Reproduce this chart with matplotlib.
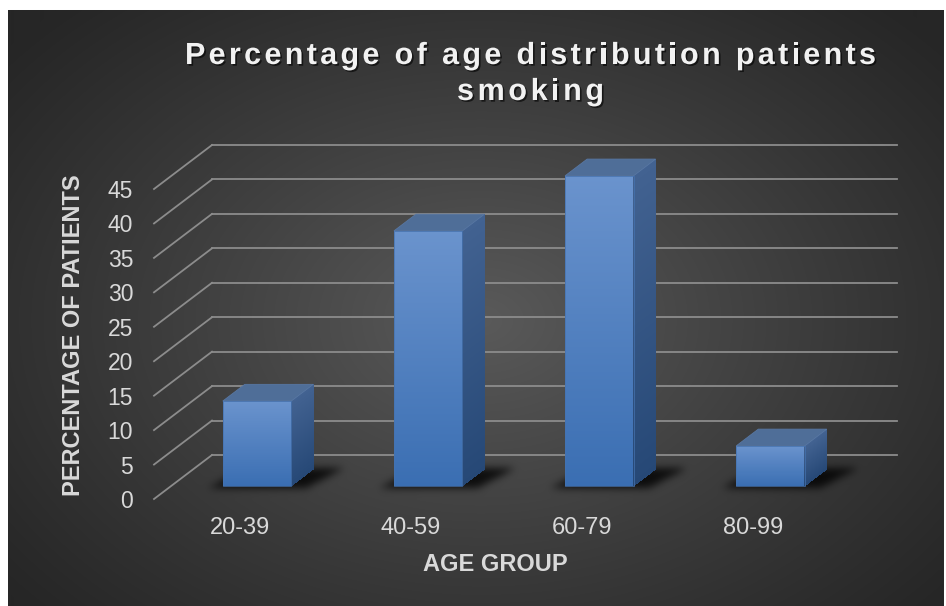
import numpy as np
import matplotlib
matplotlib.use("Agg")
import matplotlib.pyplot as plt
from matplotlib.collections import PolyCollection
from matplotlib.lines import Line2D
from matplotlib.patches import Polygon
from matplotlib.path import Path
from matplotlib.font_manager import FontProperties
import matplotlib.transforms as mtransforms
import matplotlib.patheffects as pe

plt.rcParams['font.family'] = ['Liberation Sans', 'DejaVu Sans']

# ---- data ----
age_groups = ["20-39", "40-59", "60-79", "80-99"]
smoking_pct = [12.3, 37.0, 45.0, 5.8]
y_ticks = list(range(0, 50, 5))

title_lines = ["Percentage of age distribution patients", "smoking"]
x_label = "AGE GROUP"
y_label = "PERCENTAGE OF PATIENTS"

# ---- layout / style ----
W, H = 946, 606
DEPTH = np.array([58.0, 44.0])      # pixel offset from front plane to back wall
BAR_W = 0.40
D0, D1 = 0.30, 0.68                 # bar depth range (0 = front, 1 = back wall)
GRID_C = "#8c8c8c"
TEXT_C = "#d9d9d9"
FRONT_TOP, FRONT_BOT = np.array([106, 147, 205]) / 255, np.array([58, 110, 178]) / 255
SIDE_TOP, SIDE_BOT = np.array([66, 98, 145]) / 255, np.array([38, 72, 118]) / 255
TOP_C = "#4f6e98"

fig = plt.figure(figsize=(W / 100, H / 100), dpi=100)
bg = fig.add_axes([0, 0, 1, 1])
bg.set_axis_off()
bg.set_zorder(-5)

ax = fig.add_axes([154 / W, 107 / H, 684.7 / W, 310 / H])
ax.set_xlim(-0.5, len(age_groups) - 0.5)
ax.set_ylim(0, 45)
ax.patch.set_alpha(0)
for s in ax.spines.values():
    s.set_visible(False)
ax.set_yticks(y_ticks)
ax.set_xticks(range(len(age_groups)), age_groups)
ax.tick_params(axis="y", length=0, pad=15, labelsize=16.5, labelcolor=TEXT_C)
ax.tick_params(axis="x", length=0, pad=13, labelsize=17, labelcolor=TEXT_C)

IDT = mtransforms.IdentityTransform()


def proj(x, y, d):
    """Data point (x, y) pushed back by depth fraction d, in display pixels."""
    p = ax.transData.transform((x, y))
    return p + d * DEPTH


# ---- background: radial gradient with white margins and bar shadows ----
yy, xx = np.mgrid[0:H, 0:W]
r = np.sqrt(((xx - 480) / 610.0) ** 2 + ((yy - 320) / 430.0) ** 2)
val = 38 + (90 - 38) * np.clip(1 - r, 0, 1) ** 1.1
shade = np.zeros((H, W))


def blur(a, sigma):
    rad = int(3 * sigma)
    k = np.exp(-np.arange(-rad, rad + 1) ** 2 / (2 * sigma ** 2))
    k /= k.sum()
    a = np.apply_along_axis(lambda m: np.convolve(m, k, mode="same"), 0, a)
    a = np.apply_along_axis(lambda m: np.convolve(m, k, mode="same"), 1, a)
    return a


pts = np.column_stack([xx.ravel() + 0.5, H - yy.ravel() - 0.5])
for i, v in enumerate(smoking_pct):
    xl, xr = i - BAR_W / 2, i + BAR_W / 2
    foot = [proj(xl - 0.07, 0, D0 - 0.06), proj(xr + 0.10, 0, D0 - 0.06),
            proj(xr + 0.17, 0, D1 + 0.02), proj(xl, 0, D1 + 0.02)]
    m = Path(foot).contains_points(pts).reshape(H, W)
    shade = np.maximum(shade, m.astype(float))
shade = blur(shade, 4.0)
val = val * (1 - 0.8 * np.clip(shade, 0, 1))

img = np.repeat(val[:, :, None], 3, axis=2) / 255.0
img[:10, :, :] = 1.0
img[:, :8, :] = 1.0
img[:, 943:, :] = 1.0
bg.imshow(img, extent=(0, W, 0, H), origin="upper", aspect="auto", interpolation="bilinear")
bg.set_xlim(0, W)
bg.set_ylim(0, H)

# ---- gridlines on the back wall and the left-side floor diagonals ----
x_lo, x_hi = ax.get_xlim()
for v in y_ticks:
    a, b = proj(x_lo, v, 1), proj(x_hi, v, 1)
    ax.add_artist(Line2D([a[0], b[0]], [a[1], b[1]], transform=IDT, color=GRID_C,
                         lw=1.3, clip_on=False, zorder=1))
    c = proj(x_lo, v, 0)
    ax.add_artist(Line2D([c[0], a[0]], [c[1], a[1]], transform=IDT, color=GRID_C,
                         lw=1.3, clip_on=False, zorder=1))

# ---- 3D bars ----
for i, v in enumerate(smoking_pct):
    xl, xr = i - BAR_W / 2, i + BAR_W / 2
    p0 = proj(xl, 0, D0)
    p1 = proj(xr, v, D0)
    n = max(int(p1[1] - p0[1]), 2)
    front_polys, front_cols, side_polys, side_cols = [], [], [], []
    for k in range(n):
        t = k / (n - 1)
        ya = v * k / n
        yb = min(v * (k + 1) / n + v * 0.6 / n, v)
        fa, fb = proj(xl, ya, D0), proj(xr, yb, D0)
        front_polys.append([(fa[0], fa[1]), (fb[0], fa[1]), (fb[0], fb[1]), (fa[0], fb[1])])
        front_cols.append(FRONT_BOT + (FRONT_TOP - FRONT_BOT) * t)
        s1, s2 = proj(xr, ya, D0), proj(xr, ya, D1)
        s3, s4 = proj(xr, yb, D1), proj(xr, yb, D0)
        side_polys.append([tuple(s1), tuple(s2), tuple(s3), tuple(s4)])
        side_cols.append(SIDE_BOT + (SIDE_TOP - SIDE_BOT) * t)
    for polys, cols in ((front_polys, front_cols), (side_polys, side_cols)):
        pc = PolyCollection(polys, facecolors=cols, edgecolors="none",
                            antialiased=False, transform=IDT, zorder=3)
        pc.set_clip_on(False)
        ax.add_collection(pc, autolim=False)
    top = [proj(xl, v, D0), proj(xr, v, D0), proj(xr, v, D1), proj(xl, v, D1)]
    ax.add_artist(Polygon(top, closed=True, transform=IDT, facecolor=TOP_C,
                          edgecolor="#5877a3", lw=0.6, clip_on=False, zorder=4))
    front = [proj(xl, 0, D0), proj(xr, 0, D0), proj(xr, v, D0), proj(xl, v, D0)]
    ax.add_artist(Polygon(front, closed=True, transform=IDT, facecolor="none",
                          edgecolor="#4573b0", lw=0.5, clip_on=False, zorder=4))

# ---- axis titles ----
fig.text(73 / W, 1 - 335 / H, y_label, rotation=90, ha="center", va="center",
         fontsize=17, fontweight="bold", color=TEXT_C)
fig.text(495.6 / W, 35 / H, x_label, ha="center", va="baseline",
         fontsize=17, fontweight="bold", color=TEXT_C)

# ---- letter-spaced title ----
renderer = fig.canvas.get_renderer()
tprop = FontProperties(family="Liberation Sans", weight="bold", size=22)


def tw(s):
    return renderer.get_text_width_height_descent(s, tprop, ismath=False)[0]


def spaced_title(s, cx, baseline, width):
    ref = tw("l")
    starts = [tw(s[:j] + "l") - ref if j else 0.0 for j in range(len(s))]
    extra = (width - tw(s)) / max(len(s) - 1, 1)
    x0 = cx - width / 2
    for j, ch in enumerate(s):
        if ch == " ":
            continue
        fig.text((x0 + starts[j] + j * extra) / W, 1 - baseline / H, ch,
                 fontproperties=tprop, color="#f2f2f2", ha="left", va="baseline",
                 path_effects=[pe.SimplePatchShadow(offset=(1.2, -1.2), shadow_rgbFace="black",
                                                    alpha=0.6), pe.Normal()])


spaced_title(title_lines[0], 530.5, 64, 691)
spaced_title(title_lines[1], 530.5, 100, 147)

fig.savefig("out.png", dpi=100)
